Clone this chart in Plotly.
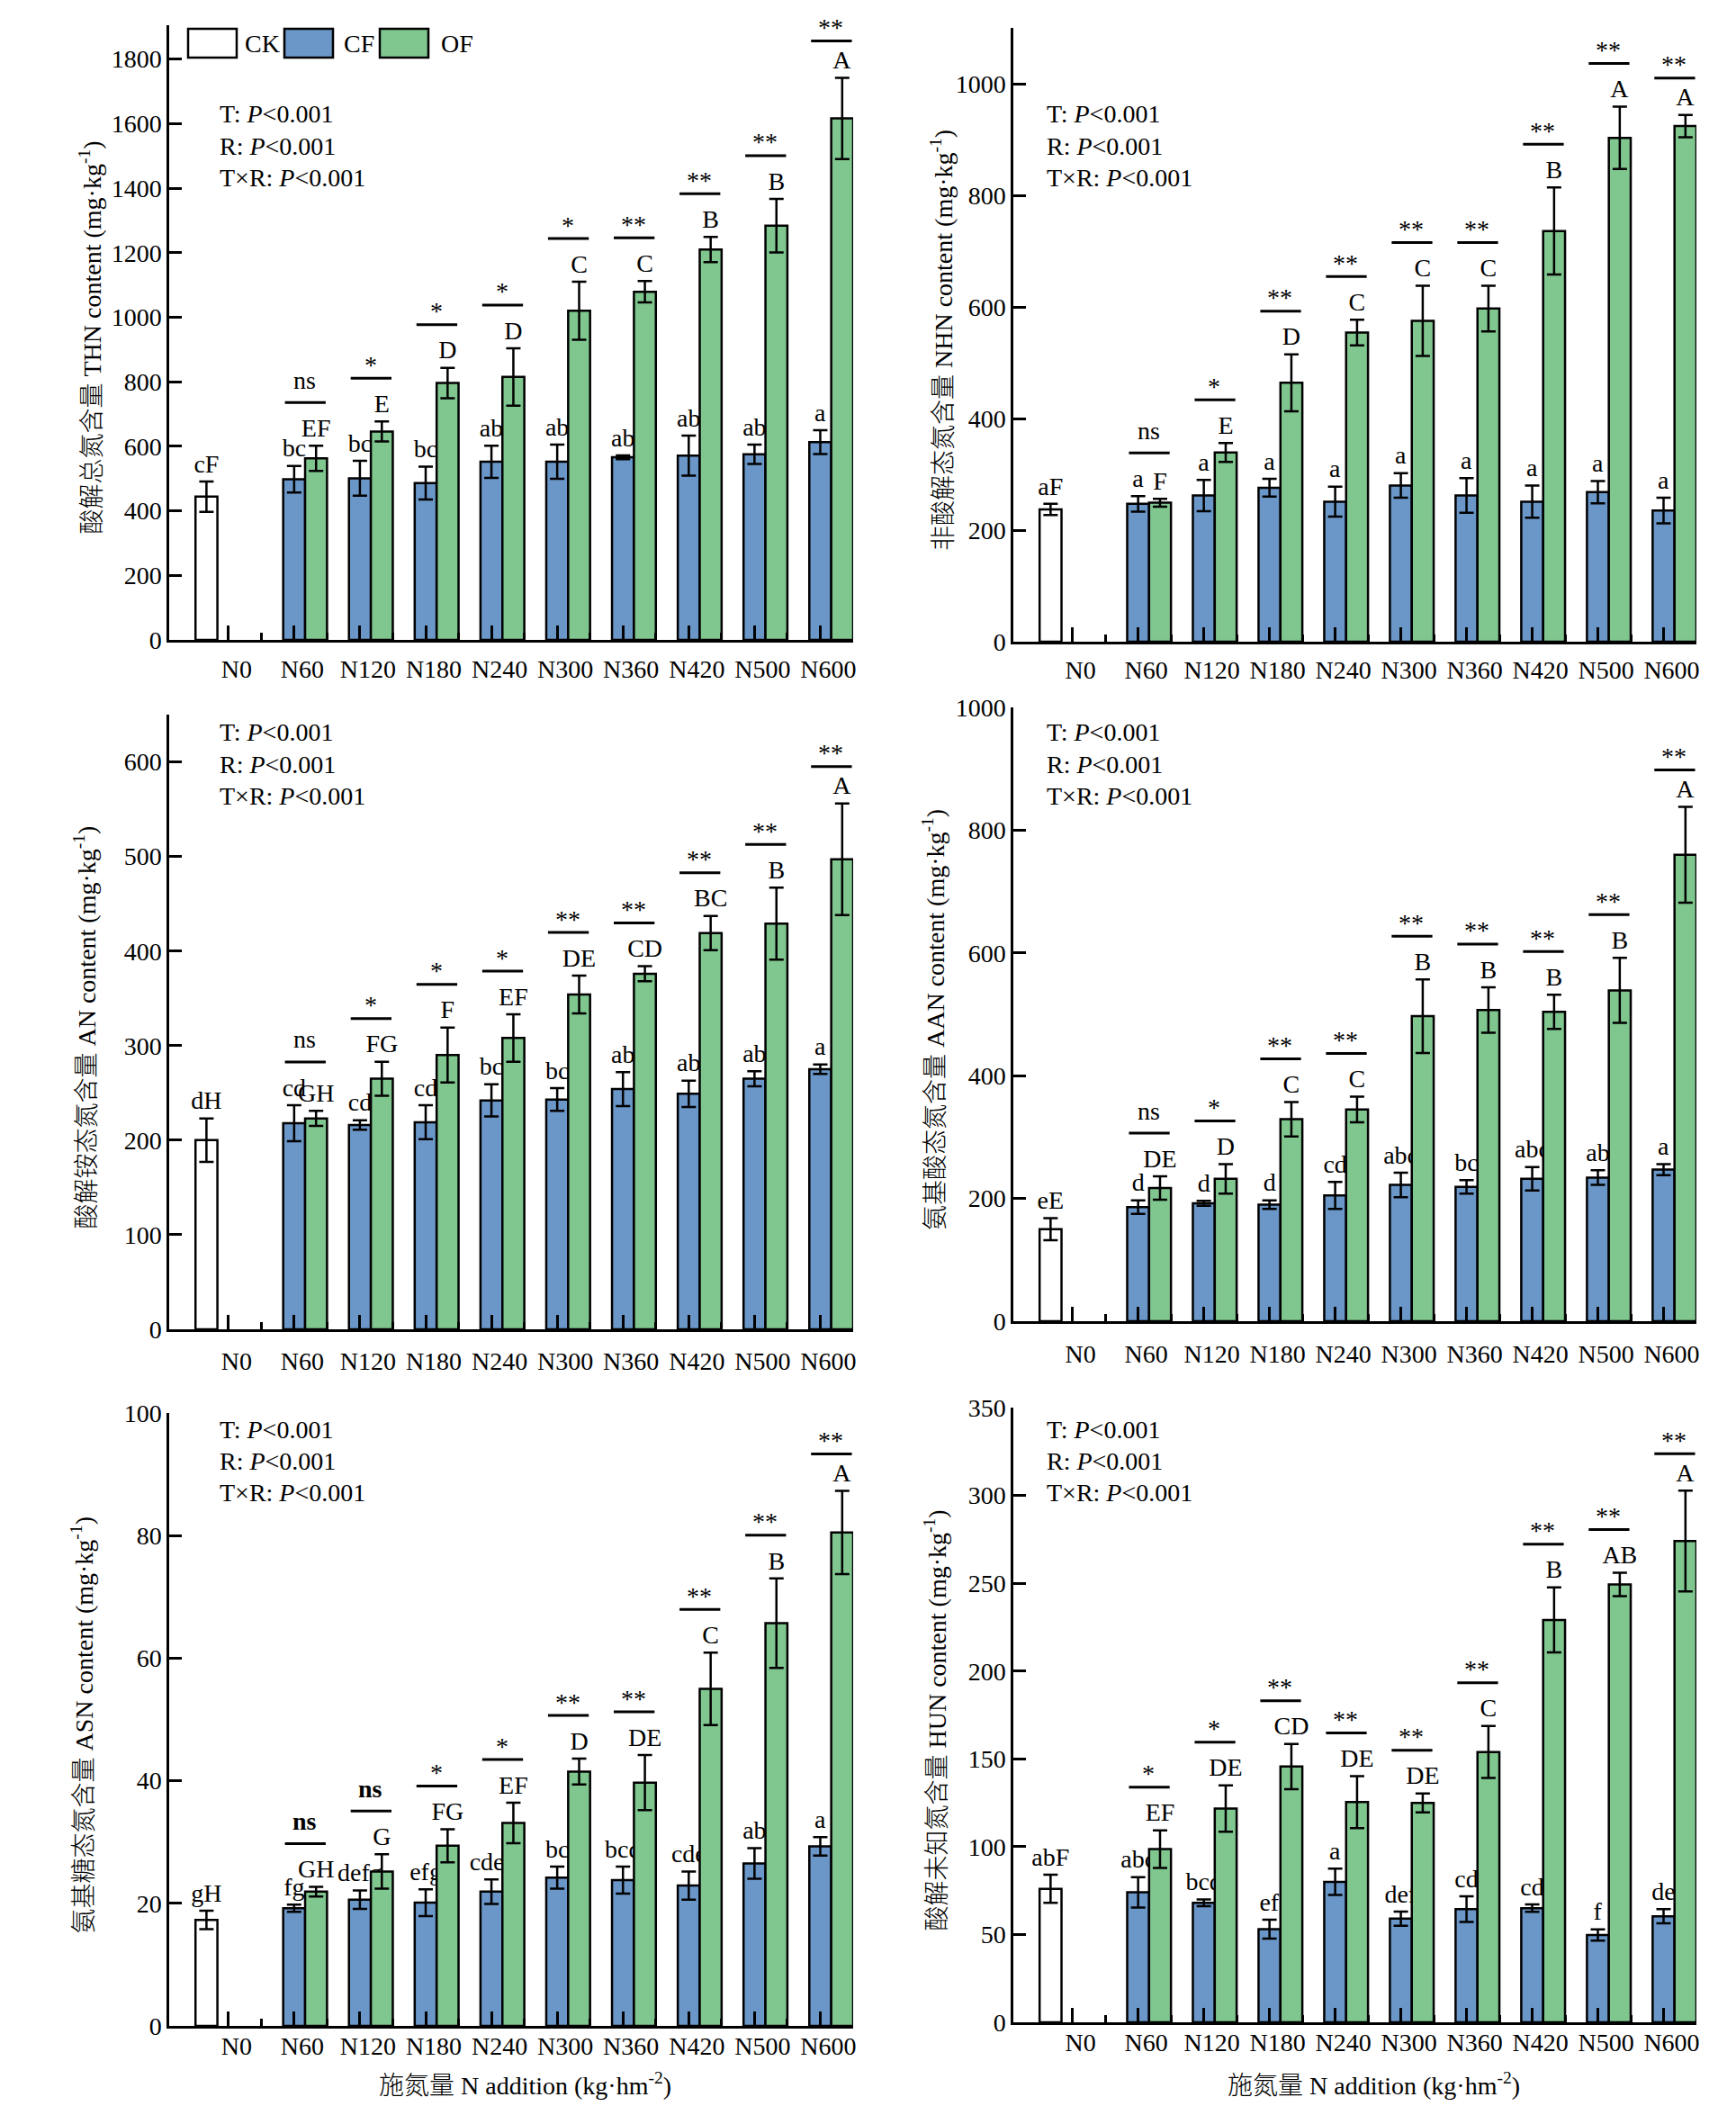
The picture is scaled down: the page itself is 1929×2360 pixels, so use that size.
import plotly.graph_objects as go

groups = ['N0', 'N60', 'N120', 'N180', 'N240', 'N300', 'N360', 'N420', 'N500', 'N600']

# 酸解总氮 THN
thn_ck, thn_ck_err, thn_ck_lab = 444, 47, 'cF'
thn_cf = [498, 501, 486, 552, 552, 566, 571, 575, 613]
thn_cf_err = [41, 54, 51, 50, 53, 6, 62, 30, 37]
thn_of = [563, 646, 796, 815, 1020, 1079, 1210, 1284, 1616]
thn_of_err = [39, 31, 47, 89, 90, 33, 39, 83, 126]
thn_cf_lab = ['bc', 'bc', 'bc', 'ab', 'ab', 'ab', 'ab', 'ab', 'a']
thn_of_lab = ['EF', 'E', 'D', 'D', 'C', 'C', 'B', 'B', 'A']
thn_sig = ['ns', '*', '*', '*', '*', '**', '**', '**', '**']

# 非酸解态氮 NHN
nhn_ck, nhn_ck_err, nhn_ck_lab = 237, 10, 'aF'
nhn_cf = [247, 262, 276, 251, 280, 262, 251, 268, 235]
nhn_cf_err = [14, 28, 16, 27, 22, 31, 29, 20, 23]
nhn_of = [249, 339, 464, 554, 575, 597, 736, 903, 924]
nhn_of_err = [7, 17, 51, 23, 63, 41, 78, 56, 20]
nhn_cf_lab = ['a'] * 9
nhn_of_lab = ['F', 'E', 'D', 'C', 'C', 'C', 'B', 'A', 'A']
nhn_sig = ['ns', '*', '**', '**', '**', '**', '**', '**', '**']

# 酸解铵态氮 AN
an_ck, an_ck_err, an_ck_lab = 200, 23, 'dH'
an_cf = [218, 216, 219, 242, 243, 254, 249, 265, 275]
an_cf_err = [19, 5, 18, 17, 12, 18, 14, 8, 5]
an_of = [223, 265, 290, 308, 354, 376, 419, 429, 497]
an_of_err = [8, 18, 29, 25, 20, 8, 18, 38, 59]
an_cf_lab = ['cd', 'cd', 'cd', 'bc', 'bc', 'ab', 'ab', 'ab', 'a']
an_of_lab = ['GH', 'FG', 'F', 'EF', 'DE', 'CD', 'BC', 'B', 'A']
an_sig = ['ns', '*', '*', '*', '**', '**', '**', '**', '**']

# 氨基酸态氮 AAN
aan_ck, aan_ck_err, aan_ck_lab = 150, 18, 'eE'
aan_cf = [186, 192, 190, 205, 222, 219, 232, 234, 247]
aan_cf_err = [11, 4, 7, 22, 20, 11, 19, 12, 9]
aan_of = [217, 232, 329, 345, 497, 507, 504, 539, 760]
aan_of_err = [19, 24, 28, 21, 60, 37, 28, 53, 78]
aan_cf_lab = ['d', 'd', 'd', 'cd', 'abc', 'bc', 'abc', 'ab', 'a']
aan_of_lab = ['DE', 'D', 'C', 'C', 'B', 'B', 'B', 'B', 'A']
aan_sig = ['ns', '*', '**', '**', '**', '**', '**', '**', '**']

# 氨基糖态氮 ASN
asn_ck, asn_ck_err, asn_ck_lab = 17.3, 1.5, 'gH'
asn_cf = [19.2, 20.6, 20.1, 21.9, 24.2, 23.8, 22.9, 26.5, 29.3]
asn_cf_err = [0.6, 1.5, 2.2, 2.0, 1.8, 2.2, 2.3, 2.5, 1.5]
asn_of = [21.9, 25.2, 29.4, 33.1, 41.5, 39.7, 55.0, 65.7, 80.5]
asn_of_err = [0.8, 2.8, 2.7, 3.3, 2.1, 4.5, 5.9, 7.3, 6.8]
asn_cf_lab = ['fg', 'defg', 'efg', 'cdef', 'bc', 'bcd', 'cde', 'ab', 'a']
asn_of_lab = ['GH', 'G', 'FG', 'EF', 'D', 'DE', 'C', 'B', 'A']
asn_sig = ['ns', 'ns', '*', '*', '**', '**', '**', '**', '**']

# 酸解未知氮 HUN
hun_ck, hun_ck_err, hun_ck_lab = 76, 8, 'abF'
hun_cf = [74, 68, 53, 80, 59, 64.5, 65, 49.7, 60.4]
hun_cf_err = [8.6, 1.9, 5.4, 7.5, 4, 7.3, 2.1, 3.2, 4]
hun_of = [98.6, 121.7, 145.6, 125.4, 124.9, 153.9, 229.1, 249.3, 274]
hun_of_err = [10.7, 13.2, 12.9, 14.8, 5.4, 14.8, 18.5, 6.7, 28.7]
hun_cf_lab = ['abc', 'bcd', 'ef', 'a', 'def', 'cd', 'cd', 'f', 'de']
hun_of_lab = ['EF', 'DE', 'CD', 'DE', 'DE', 'C', 'B', 'AB', 'A']
hun_sig = ['*', '*', '**', '**', '**', '**', '**', '**', '**']

# page pixels -> paper fractions (the html body adds an 8px margin)
PAD = 8
W, H = 1929 - 2 * PAD, 2360 - 2 * PAD


def fx(px):
    return (px - PAD) / W


def fy(py):
    return 1 - (py - PAD) / H


FONT = 'Liberation Serif, Noto Sans CJK SC'
BLUE = '#6A96C8'
GREEN = '#80C68F'
LW = 2.5

panels = [
    dict(ck=thn_ck, ck_err=thn_ck_err, ck_lab=thn_ck_lab, cf=thn_cf, cf_err=thn_cf_err,
         of=thn_of, of_err=thn_of_err, cf_lab=thn_cf_lab, of_lab=thn_of_lab, sig=thn_sig,
         title='酸解总氮含量 THN content (mg·kg<sup>-1</sup>)', top=1905, dtick=200, ymax=1800,
         box=(188, 948, 28, 711), title_x=101, p_y=127, p_x=242, standoff=6),
    dict(ck=nhn_ck, ck_err=nhn_ck_err, ck_lab=nhn_ck_lab, cf=nhn_cf, cf_err=nhn_cf_err,
         of=nhn_of, of_err=nhn_of_err, cf_lab=nhn_cf_lab, of_lab=nhn_of_lab, sig=nhn_sig,
         title='非酸解态氮含量 NHN content (mg·kg<sup>-1</sup>)', top=1100, dtick=200, ymax=1000,
         box=(1126, 1885, 31, 713), title_x=1047, p_y=127, p_x=1161, standoff=5),
    dict(ck=an_ck, ck_err=an_ck_err, ck_lab=an_ck_lab, cf=an_cf, cf_err=an_cf_err,
         of=an_of, of_err=an_of_err, cf_lab=an_cf_lab, of_lab=an_of_lab, sig=an_sig,
         title='酸解铵态氮含量 AN content (mg·kg<sup>-1</sup>)', top=650, dtick=100, ymax=600,
         box=(188, 948, 794, 1477), title_x=95, p_y=814, p_x=242, standoff=9),
    dict(ck=aan_ck, ck_err=aan_ck_err, ck_lab=aan_ck_lab, cf=aan_cf, cf_err=aan_cf_err,
         of=aan_of, of_err=aan_of_err, cf_lab=aan_cf_lab, of_lab=aan_of_lab, sig=aan_sig,
         title='氨基酸态氮含量 AAN content (mg·kg<sup>-1</sup>)', top=1000, dtick=200, ymax=1000,
         box=(1126, 1885, 786, 1468), title_x=1037, p_y=814, p_x=1161, standoff=10),
    dict(ck=asn_ck, ck_err=asn_ck_err, ck_lab=asn_ck_lab, cf=asn_cf, cf_err=asn_cf_err,
         of=asn_of, of_err=asn_of_err, cf_lab=asn_cf_lab, of_lab=asn_of_lab, sig=asn_sig,
         title='氨基糖态氮含量 ASN content (mg·kg<sup>-1</sup>)', top=100, dtick=20, ymax=100,
         box=(188, 948, 1570, 2251), title_x=92, p_y=1588, p_x=242, standoff=-4),
    dict(ck=hun_ck, ck_err=hun_ck_err, ck_lab=hun_ck_lab, cf=hun_cf, cf_err=hun_cf_err,
         of=hun_of, of_err=hun_of_err, cf_lab=hun_cf_lab, of_lab=hun_of_lab, sig=hun_sig,
         title='酸解未知氮含量 HUN content (mg·kg<sup>-1</sup>)', top=350, dtick=50, ymax=350,
         box=(1126, 1885, 1564, 2247), title_x=1040, p_y=1588, p_x=1161, standoff=-4),
]

fig = go.Figure()
shapes = []
annotations = []
layout = {}
xs = list(range(1, 10))


def err_bar(vals):
    return dict(type='data', array=vals, visible=True, color='black', thickness=LW, width=8)


def label_bar(x, tops, labels, offset, xa, ya, top):
    # invisible bar sitting on the error-bar top, carrying the letter text
    return go.Bar(x=x, y=[top * 0.002] * len(x), base=tops, offset=offset, width=1 / 3,
                  marker=dict(color='rgba(0,0,0,0)', line=dict(width=0)),
                  text=labels, textposition='outside', textangle=0, constraintext='none',
                  cliponaxis=False, outsidetextfont=dict(family=FONT, size=28, color='black'),
                  xaxis=xa, yaxis=ya, hoverinfo='skip', showlegend=False)


for k, p in enumerate(panels, start=1):
    xa, ya = f'x{k}', f'y{k}'
    x0, x1, yt, yb = p['box']
    top = p['top']

    ck_top = [p['ck'] + p['ck_err']]
    cf_top = [v + e for v, e in zip(p['cf'], p['cf_err'])]
    of_top = [v + e for v, e in zip(p['of'], p['of_err'])]

    fig.add_trace(go.Bar(x=[0], y=[p['ck']], offset=-0.5, width=1 / 3,
                         marker=dict(color='white', line=dict(color='black', width=LW)),
                         error_y=err_bar([p['ck_err']]), xaxis=xa, yaxis=ya, name='CK'))
    fig.add_trace(label_bar([0], ck_top, [p['ck_lab']], -0.5, xa, ya, top))
    fig.add_trace(go.Bar(x=xs, y=p['cf'], offset=-1 / 6, width=1 / 3,
                         marker=dict(color=BLUE, line=dict(color='black', width=LW)),
                         error_y=err_bar(p['cf_err']), xaxis=xa, yaxis=ya, name='CF'))
    fig.add_trace(label_bar(xs, cf_top, p['cf_lab'], -1 / 6, xa, ya, top))
    fig.add_trace(go.Bar(x=xs, y=p['of'], offset=1 / 6, width=1 / 3,
                         marker=dict(color=GREEN, line=dict(color='black', width=LW)),
                         error_y=err_bar(p['of_err']), xaxis=xa, yaxis=ya, name='OF'))
    fig.add_trace(label_bar(xs, of_top, p['of_lab'], 1 / 6, xa, ya, top))

    # significance lines and marks between CF and OF
    for i, s in zip(xs, p['sig']):
        anchor = max(of_top[i - 1], cf_top[i - 1])
        lift = 41 if i == 9 else 48
        shapes.append(dict(type='line', xref=xa, yref=ya, x0=i - 0.14, x1=i + 0.48,
                           ysizemode='pixel', yanchor=anchor, y0=lift, y1=lift,
                           line=dict(color='black', width=3)))
        bold = s == 'ns' and k == 5
        annotations.append(dict(xref=xa, yref=ya, x=i + 0.16, y=anchor,
                                text=f'<b>{s}</b>' if bold else s, showarrow=False,
                                yanchor='middle', yshift=lift + (25 if s == 'ns' else 15),
                                font=dict(family=FONT, size=28, color='black')))

    # ANOVA text
    for j, term in enumerate(['T', 'R', 'T×R']):
        annotations.append(dict(xref='paper', yref='paper', x=fx(p['p_x']),
                                y=fy(p['p_y'] + 35 * j),
                                text=f'{term}: <i>P</i>&lt;0.001', showarrow=False,
                                xanchor='left', yanchor='middle',
                                font=dict(family=FONT, size=28, color='black')))

    # y title
    annotations.append(dict(xref='paper', yref='paper', x=fx(p['title_x']),
                            y=fy((yt + yb) / 2 + 6), text=p['title'], textangle=-90,
                            showarrow=False, xanchor='center', yanchor='middle',
                            font=dict(family=FONT, size=28, color='black', weight=300)))

    suffix = '' if k == 1 else str(k)
    layout['xaxis' + suffix] = dict(
        domain=[fx(x0), fx(x1)], anchor=ya, range=[-0.9, 9.5], automargin=False,
        tickmode='array', tickvals=list(range(10)), ticktext=groups,
        ticks='inside', ticklen=16, tickwidth=LW, tickcolor='black',
        minor=dict(tickmode='array', tickvals=[i + 0.5 for i in range(9)], ticks='inside',
                   ticklen=8, tickwidth=LW, tickcolor='black', showgrid=False),
        ticklabelshift=9, ticklabelstandoff=p['standoff'],
        showline=True, linewidth=LW, linecolor='black', showgrid=False, zeroline=False,
        tickfont=dict(family=FONT, size=28, color='black'))
    layout['yaxis' + suffix] = dict(
        domain=[fy(yb), fy(yt)], anchor=xa, range=[0, top], automargin=False,
        tickmode='array', tickvals=list(range(0, p['ymax'] + 1, p['dtick'])),
        ticks='inside', ticklen=14, tickwidth=LW, tickcolor='black',
        showline=True, linewidth=LW, linecolor='black', showgrid=False, zeroline=False,
        tickfont=dict(family=FONT, size=28, color='black'))

# x titles for bottom row
for cx in [583, 1526]:
    annotations.append(dict(xref='paper', yref='paper', x=fx(cx), y=fy(2315),
                            text='施氮量 N addition (kg·hm<sup>-2</sup>)', showarrow=False,
                            xanchor='center', yanchor='middle',
                            font=dict(family=FONT, size=28, color='black', weight=300)))

# legend in the first panel
legend_items = [('CK', 'white', 209, 270), ('CF', BLUE, 316, 380), ('OF', GREEN, 422, 488)]
for name, col, bx, tx in legend_items:
    shapes.append(dict(type='rect', xref='paper', yref='paper', x0=fx(bx), x1=fx(bx + 54),
                       y0=fy(64), y1=fy(32), fillcolor=col,
                       line=dict(color='black', width=LW)))
    annotations.append(dict(xref='paper', yref='paper', x=fx(tx), y=fy(49), text=name,
                            showarrow=False, xanchor='left', yanchor='middle',
                            font=dict(family=FONT, size=28, color='black')))

fig.update_layout(
    template='none',
    width=W, height=H, margin=dict(l=0, r=0, t=0, b=0, pad=0, autoexpand=False),
    barmode='overlay', showlegend=False,
    plot_bgcolor='white', paper_bgcolor='white',
    font=dict(family=FONT, size=28, color='black'),
    shapes=shapes, annotations=annotations, **layout)

fig.write_html('out.html')
